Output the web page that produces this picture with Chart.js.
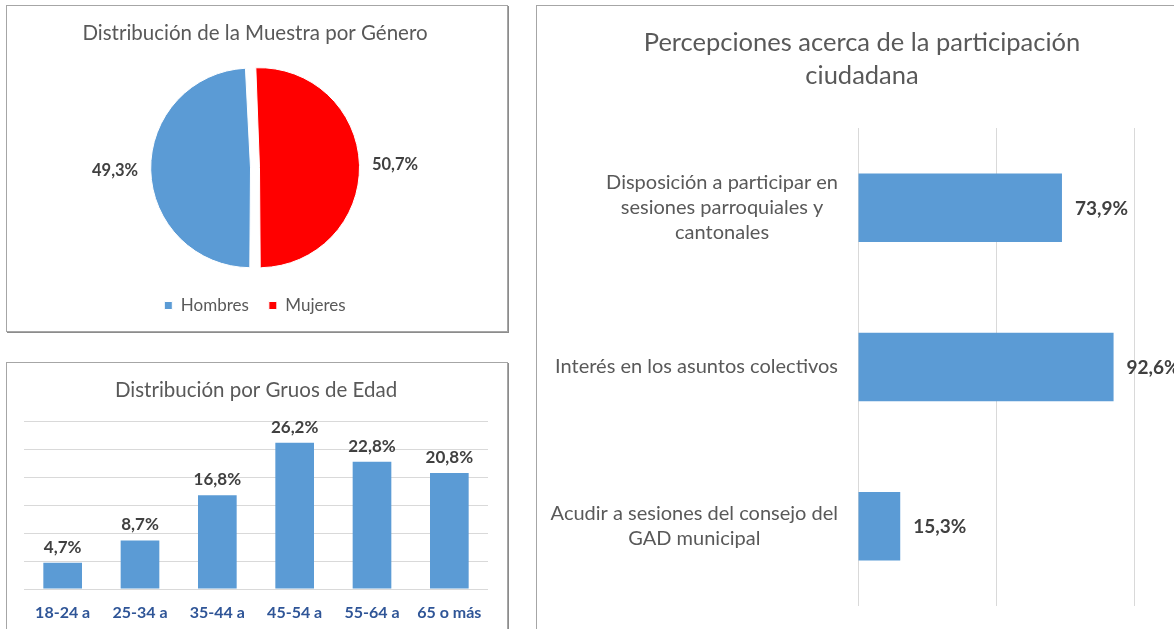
<!DOCTYPE html>
<html>
<head>
<meta charset="utf-8">
<script src="https://cdn.jsdelivr.net/npm/chart.js@4.4.0/dist/chart.umd.min.js"></script>
<style>
html,body{margin:0;padding:0;background:#fff}
body{width:1174px;height:629px;overflow:hidden;position:relative}
.box{position:absolute;border:1px solid #a6a6a6;box-shadow:1px 1px 0 #8c8c8c;background:#fff}
#p1{left:6px;top:5px;width:500px;height:325px}
#p2{left:6px;top:362px;width:500px;height:300px}
#p3{left:536px;top:5px;width:700px;height:660px}
canvas{position:absolute;left:0;top:0}
</style>
</head>
<body>
<div class="box" id="p1"><canvas id="genero" width="500" height="325"></canvas></div>
<div class="box" id="p2"><canvas id="edad" width="500" height="266"></canvas></div>
<div class="box" id="p3"><canvas id="perc" width="650" height="623"></canvas></div>
<script>
// datos
const generoLabels=["Hombres","Mujeres"];
const generoValues=[49.3,50.7];
const generoColors=["#5B9BD5","#FF0000"];

const edadLabels=["18-24 a","25-34 a","35-44 a","45-54 a","55-64 a","65 o más"];
const edadValues=[4.7,8.7,16.8,26.2,22.8,20.8];

const percLabels=[
["Disposición a participar en","sesiones parroquiales y","cantonales"],
["Interés en los asuntos colectivos"],
["Acudir a sesiones del consejo del","GAD municipal"]
];
const percValues=[73.9,92.6,15.3];

const FONT="Lato, 'Open Sans', sans-serif";
const fmt=v=>v.toFixed(1).replace(".",",")+"%";

// etiquetas de valor (no hay plugin datalabels)
const valueLabels={
id:"valueLabels",
afterDatasetsDraw(chart,args,opts){
let ctx=chart.ctx,meta=chart.getDatasetMeta(0),data=chart.data.datasets[0].data;
ctx.save();
ctx.font="bold "+opts.size+"px "+FONT;
ctx.fillStyle="#404040";
meta.data.forEach((el,i)=>{
let t=fmt(data[i]);
if(chart.config.type==="pie"){
let mid=(el.startAngle+el.endAngle)/2,r=el.outerRadius+opts.dist;
ctx.textAlign="center";ctx.textBaseline="middle";
ctx.fillText(t,el.x+Math.cos(mid)*r,el.y+Math.sin(mid)*r);
}else if(chart.options.indexAxis==="y"){
ctx.textAlign="left";ctx.textBaseline="middle";
ctx.fillText(t,el.x+opts.pad,el.y+1);
}else{
ctx.textAlign="center";ctx.textBaseline="bottom";
ctx.fillText(t,el.x,el.y-opts.pad);
}
});
ctx.restore();
}
};

// etiquetas de categoria centradas por bloque, como en Excel
const wrapLabels={
id:"wrapLabels",
afterDraw(chart){
let s=chart.scales.y,ctx=chart.ctx,lh=25;
ctx.save();
ctx.font="20px "+FONT;
ctx.fillStyle="#595959";
ctx.textAlign="center";ctx.textBaseline="middle";
percLabels.forEach((lines,i)=>{
let w=Math.max(...lines.map(l=>ctx.measureText(l).width));
let cx=s.right-20-w/2;
let y0=s.getPixelForTick(i)-(lines.length-1)*lh/2;
lines.forEach((l,k)=>ctx.fillText(l,cx,y0+k*lh));
});
ctx.restore();
}
};

new Chart(document.getElementById("genero"),{
type:"pie",
data:{labels:generoLabels,datasets:[{data:generoValues,backgroundColor:generoColors,borderColor:"#fff",borderWidth:1,offset:18}]},
options:{
responsive:false,animation:false,
rotation:180,radius:95.5,
layout:{padding:{left:0,right:4,top:0,bottom:7}},
plugins:{
title:{display:true,text:"Distribución de la Muestra por Género",color:"#595959",font:{family:FONT,size:20.5,weight:"normal"},padding:{top:15,bottom:13}},
legend:{position:"bottom",labels:{color:"#595959",font:{family:FONT,size:17},boxWidth:8,boxHeight:8,padding:20}},
tooltip:{enabled:false},
valueLabels:{size:16.5,dist:44.5}
}
},
plugins:[valueLabels]
});

new Chart(document.getElementById("edad"),{
type:"bar",
data:{labels:edadLabels,datasets:[{data:edadValues,backgroundColor:"#5B9BD5",barPercentage:0.5,categoryPercentage:1}]},
options:{
responsive:false,animation:false,
layout:{padding:{left:17,right:19,top:0,bottom:0}},
scales:{
x:{grid:{display:false,drawTicks:false},border:{display:false},ticks:{color:"#2F5597",font:{family:FONT,size:16,weight:"bold"},padding:14,maxRotation:0},afterFit(s){s.height=40;}},
y:{min:0,max:30,ticks:{stepSize:5,display:false},grid:{color:"#D9D9D9",drawTicks:false},border:{display:false}}
},
plugins:{
title:{display:true,text:"Distribución por Gruos de Edad",color:"#595959",font:{family:FONT,size:20.5,weight:"normal"},padding:{top:15,bottom:19}},
legend:{display:false},
tooltip:{enabled:false},
valueLabels:{size:17,pad:7}
}
},
plugins:[valueLabels]
});

new Chart(document.getElementById("perc"),{
type:"bar",
data:{labels:percLabels.map(l=>l.join(" ")),datasets:[{data:percValues,backgroundColor:"#5B9BD5",barPercentage:0.43,categoryPercentage:1}]},
options:{
responsive:false,animation:false,
indexAxis:"y",
layout:{padding:{left:53,right:53,top:0,bottom:23}},
scales:{
x:{min:0,max:100,ticks:{stepSize:50,display:false},grid:{color:"#D9D9D9",drawTicks:false},border:{display:false}},
y:{ticks:{display:false},grid:{display:false},border:{display:false},afterFit(s){s.width=268;}}
},
plugins:{
title:{display:true,text:["Percepciones acerca de la participación","ciudadana"],color:"#595959",font:{family:FONT,size:25.5,weight:"normal",lineHeight:1.294},padding:{top:20,bottom:36}},
legend:{display:false},
tooltip:{enabled:false},
valueLabels:{size:19,pad:13}
}
},
plugins:[valueLabels,wrapLabels]
});
</script>
</body>
</html>
